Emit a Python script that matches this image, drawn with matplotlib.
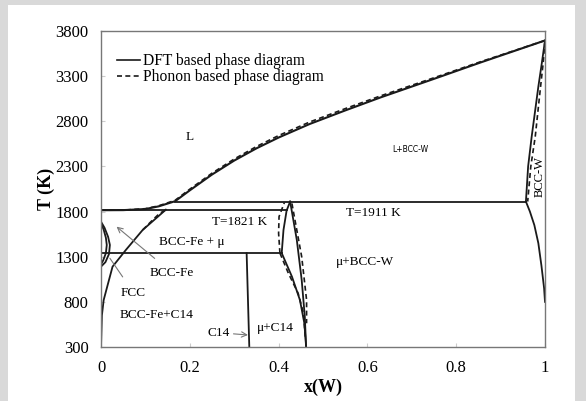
import matplotlib
matplotlib.use('Agg')
import matplotlib.pyplot as plt
from matplotlib.lines import Line2D
from matplotlib.patches import Rectangle

# ---- DFT based (solid) boundaries ----
liq_x = [0, 0.05, 0.1, 0.13, 0.167, 0.2, 0.25, 0.3, 0.35, 0.4, 0.47, 0.55, 0.63, 0.75, 0.854, 1.0]
liq_T = [1815, 1816, 1828, 1858, 1915, 2035, 2210, 2365, 2500, 2620, 2770, 2920, 3065, 3270, 3450, 3695]

solidus_w_x = [1.0, 0.993, 0.985, 0.970, 0.962, 0.957]
solidus_w_T = [3695, 3450, 3183, 2630, 2300, 1911]

solvus_w_x = [0.957, 0.966, 0.976, 0.985, 0.992, 0.998, 1.0]
solvus_w_T = [1911, 1800, 1650, 1450, 1200, 950, 800]

solvus_fe_x = [0, 0.002, 0.006, 0.013, 0.026, 0.056, 0.094, 0.125, 0.146]
solvus_fe_T = [300, 650, 820, 950, 1190, 1375, 1597, 1730, 1821]

fcc_out_x = [0, 0.008, 0.016, 0.020, 0.018, 0.010, 0]
fcc_out_T = [1688, 1620, 1520, 1430, 1330, 1240, 1190]
fcc_in_x = [0, 0.006, 0.011, 0.013, 0.011, 0.005, 0]
fcc_in_T = [1670, 1600, 1510, 1430, 1340, 1260, 1215]

c14_x = [0.328, 0.334]
c14_T = [1340, 300]

mu_left_up_x = [0.407, 0.411, 0.418, 0.426]
mu_left_up_T = [1340, 1596, 1810, 1911]
mu_right_x = [0.426, 0.441, 0.452, 0.459, 0.462]
mu_right_T = [1911, 1486, 1043, 637, 300]
mu_left_low_x = [0.407, 0.430, 0.448, 0.458, 0.462]
mu_left_low_T = [1340, 1080, 821, 563, 300]

# invariant lines: (x start, x end, T)
inv_1911 = (0.167, 0.957, 1911)
inv_1821 = (0.0, 0.418, 1821)
inv_1340 = (0.0, 0.407, 1340)

# ---- Phonon based (dashed) boundaries ----
liq_ph_T = [1815, 1816, 1832, 1864, 1925, 2048, 2225, 2382, 2520, 2642, 2792, 2940, 3082, 3282, 3458, 3695]
solidus_w_ph_x = [1.0, 0.996, 0.990, 0.978, 0.968, 0.961]
solvus_fe_ph_x = [0.094, 0.118, 0.132, 0.150]
solvus_fe_ph_T = [1597, 1715, 1780, 1830]
mu_ph_left_up_x = [0.403, 0.400, 0.401, 0.413]
mu_ph_left_up_T = [1340, 1560, 1744, 1900]
mu_ph_left_low_x = [0.403, 0.422, 0.444, 0.456, 0.460]
mu_ph_left_low_T = [1340, 1117, 895, 674, 415]
mu_ph_right_x = [0.430, 0.452, 0.463, 0.463]
mu_ph_right_T = [1890, 1300, 821, 563]

plt.rcParams['font.family'] = ['Liberation Serif', 'DejaVu Serif']

fig = plt.figure(figsize=(5.86, 4.01), dpi=100, facecolor='#d9d9d9')
fig.patches.append(Rectangle((8 / 586, 0), 567 / 586, 396 / 401, transform=fig.transFigure,
                             facecolor='white', edgecolor='none', zorder=-10))
ax = fig.add_axes([101 / 586, 1 - 347 / 401, 444 / 586, 316 / 401])

k = '#1a1a1a'
dash = (0, (3, 2))
ax.plot(liq_x, liq_T, color=k, lw=1.5)
ax.plot(liq_x, liq_ph_T, color=k, lw=1.2, ls=dash)
for xs, ts in [(solidus_w_x, solidus_w_T), (solvus_w_x, solvus_w_T), (solvus_fe_x, solvus_fe_T),
               (fcc_out_x, fcc_out_T), (fcc_in_x, fcc_in_T), (c14_x, c14_T),
               (mu_left_up_x, mu_left_up_T), (mu_right_x, mu_right_T),
               (mu_left_low_x, mu_left_low_T)]:
    ax.plot(xs, ts, color=k, lw=1.3)
for x0, x1, t in [inv_1911, inv_1821, inv_1340]:
    ax.plot([x0, x1], [t, t], color=k, lw=1.3)
for xs, ts in [(solidus_w_ph_x, solidus_w_T), (solvus_fe_ph_x, solvus_fe_ph_T),
               (mu_ph_left_up_x, mu_ph_left_up_T), (mu_ph_left_low_x, mu_ph_left_low_T),
               (mu_ph_right_x, mu_ph_right_T)]:
    ax.plot(xs, ts, color=k, lw=1.2, ls=dash)

ax.set_xlim(0, 1)
ax.set_ylim(300, 3800)
ax.set_xticks([0, 0.2, 0.4, 0.6, 0.8, 1])
ax.set_xticklabels(['0', '0.2', '0.4', '0.6', '0.8', '1'])
ax.set_yticks(range(300, 3801, 500))
ax.tick_params(direction='in', length=3, color='#cccccc', labelsize=12, pad=9)
for s in ax.spines.values():
    s.set_color('#777777')
    s.set_linewidth(1.0)
ax.set_xlabel('x(W)', fontsize=13, fontweight='bold', labelpad=2)
ax.set_ylabel('T (K)', fontsize=13, fontweight='bold', labelpad=0)

ax.legend(handles=[Line2D([], [], color=k, lw=1.2), Line2D([], [], color=k, lw=1.2, ls=dash)],
          labels=['DFT based phase diagram', 'Phonon based phase diagram'],
          loc='upper left', bbox_to_anchor=(0.036, 0.93), frameon=False, fontsize=11.2,
          handlelength=1.45, handletextpad=0.25, labelspacing=0.0, borderaxespad=0, borderpad=0)

fs = 9.5
ax.text(0.20, 2626, 'L', fontsize=fs, ha='center', va='center')
ax.text(0.696, 2482, 'L+BCC-W', fontsize=5.5, family='DejaVu Sans', ha='center', va='center')
ax.text(0.987, 2185, 'BCC-W', fontsize=9, rotation=90, ha='center', va='center')
ax.text(0.313, 1688, 'T=1821 K', fontsize=fs, ha='center', va='center')
ax.text(0.613, 1785, 'T=1911 K', fontsize=fs, ha='center', va='center')
ax.text(0.204, 1467, 'BCC-Fe + μ', fontsize=fs, ha='center', va='center')
ax.text(0.595, 1245, 'μ+BCC-W', fontsize=fs, ha='center', va='center')
ax.text(0.125, 655, 'BCC-Fe+C14', fontsize=fs, ha='center', va='center')
ax.text(0.392, 508, 'μ+C14', fontsize=fs, ha='center', va='center')
ax.annotate('BCC-Fe', xy=(0.035, 1633), xytext=(0.159, 1125), fontsize=fs, ha='center', va='center',
            arrowprops=dict(arrowstyle='->', color='#777777', lw=0.8, shrinkA=6, shrinkB=0))
ax.annotate('FCC', xy=(0.020, 1283), xytext=(0.073, 903), fontsize=fs, ha='center', va='center',
            arrowprops=dict(arrowstyle='-', color='#777777', lw=0.8, shrinkA=6, shrinkB=0))
ax.annotate('C14', xy=(0.331, 433), xytext=(0.264, 459), fontsize=fs, ha='center', va='center',
            arrowprops=dict(arrowstyle='->', color='#777777', lw=0.8, shrinkA=1, shrinkB=0))

fig.savefig('out.png', dpi=100, facecolor=fig.get_facecolor())
